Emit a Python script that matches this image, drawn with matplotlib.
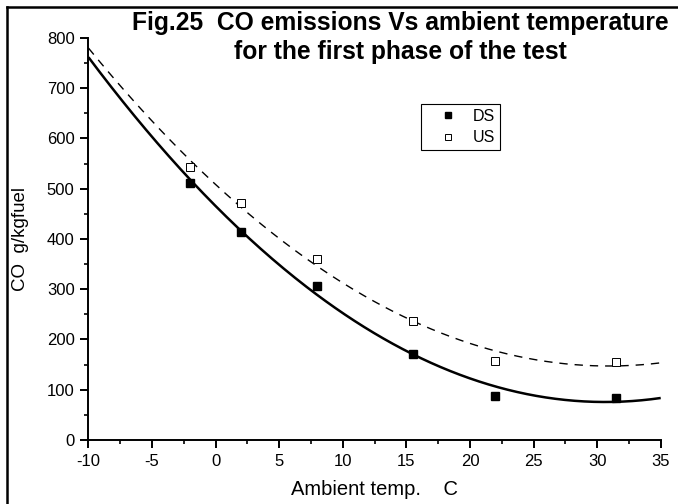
import numpy as np
import matplotlib
matplotlib.use("Agg")
import matplotlib.pyplot as plt
from matplotlib.lines import Line2D
from matplotlib.ticker import MultipleLocator

plt.rcParams['font.family'] = ['Liberation Sans', 'DejaVu Sans']
plt.rcParams['axes.unicode_minus'] = False

temp = [-2, 2, 8, 15.5, 22, 31.5]
ds_co = [512, 414, 307, 172, 87, 84]
us_co = [544, 472, 361, 236, 158, 156]

title = "Fig.25  CO emissions Vs ambient temperature\nfor the first phase of the test"
xlabel = "Ambient temp.    C"
ylabel = "CO  g/kgfuel"

fig = plt.figure(figsize=(6.78, 5.04), dpi=100)
ax = fig.add_axes([0.1305, 0.127, 0.844, 0.7976])

xs = np.linspace(-10, 35, 300)
ds_fit = np.polyval(np.polyfit(temp, ds_co, 2), xs)
us_fit = np.polyval(np.polyfit(temp, us_co, 2), xs)
ax.plot(xs, ds_fit, color='black', lw=1.8, solid_capstyle='butt')
ax.plot(xs, us_fit, color='black', lw=1.0, dashes=(6, 5))

ax.plot(temp, ds_co, 's', color='black', ms=6, mec='black', label='DS', zorder=3)
ax.plot(temp, us_co, 's', mfc='white', mec='black', mew=0.7, ms=5.5, label='US', zorder=3)

ax.set_xlim(-10, 35)
ax.set_ylim(0, 800)
ax.xaxis.set_major_locator(MultipleLocator(5))
ax.xaxis.set_minor_locator(MultipleLocator(2.5))
ax.yaxis.set_major_locator(MultipleLocator(100))
ax.yaxis.set_minor_locator(MultipleLocator(50))
for s in ['top', 'right']:
    ax.spines[s].set_visible(False)
for s in ['left', 'bottom']:
    ax.spines[s].set_linewidth(1.4)
ax.tick_params(which='major', direction='out', length=5.5, width=1.4, labelsize=12, pad=4.5)
ax.tick_params(which='minor', direction='out', length=3, width=1.2)

ax.set_xlabel(xlabel, fontsize=14.5)
ax.xaxis.set_label_coords(0.5, -0.1)
ax.set_ylabel(ylabel, fontsize=13.5)
ax.yaxis.set_label_coords(-0.104, 0.5)

leg = ax.legend(loc='upper left', bbox_to_anchor=(0.581, 0.836), fontsize=11.5,
                frameon=True, fancybox=False, edgecolor='black', framealpha=1,
                handlelength=2.8, handletextpad=0.15, borderpad=0.3,
                labelspacing=0.4, markerscale=0.75, borderaxespad=0)
leg.get_frame().set_linewidth(0.8)

fig.text(0.59, 0.978, title, ha='center', va='top', fontsize=17.7,
         fontweight='bold', linespacing=1.25)

fig.lines.append(Line2D([7 / 678, 7 / 678], [0, 1 - 7 / 504], transform=fig.transFigure,
                        color='black', lw=1.8))
fig.lines.append(Line2D([7 / 678, 1], [1 - 7 / 504, 1 - 7 / 504], transform=fig.transFigure,
                        color='black', lw=1.8))

fig.savefig("out.png", dpi=100)
